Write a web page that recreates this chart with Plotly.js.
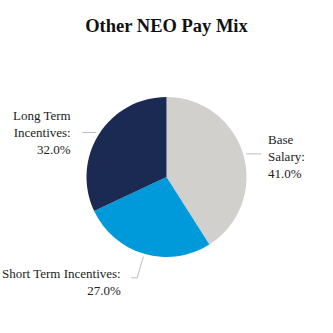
<!DOCTYPE html>
<html><head><meta charset="utf-8">
<script src="https://cdn.plot.ly/plotly-3.0.1.min.js"></script>
<style>html,body{margin:0;padding:0;background:#fff}</style>
</head><body><div id="chart" style="width:333px;height:333px"></div>
<script>
const categories = ["Base Salary", "Short Term Incentives", "Long Term Incentives"];
const labelLines = ["Base<br>Salary:", "Short Term Incentives:", "Long Term<br>Incentives:"];
const values = [41.0, 27.0, 32.0];
const colors = ["#D1D0CC", "#009ADA", "#1B2A52"];

// layout geometry (pixels)
const W = 333, H = 333, cx = 166.5, cy = 177, R = 80;
// leader style per slice: radial extension, horizontal run, text gap, text vertical shift
const leader = [
  {ext: 0,  run: 15,  gap: 5,  dy: 3},
  {ext: 22, run: -6,  gap: 8,  dy: 4},
  {ext: 0,  run: -14, gap: 9,  dy: 0}
];

const total = values.reduce((a, b) => a + b, 0);
let cum = 0;
const shapes = [], annotations = [];
values.forEach((v, i) => {
  const mid = (cum + v / 2) / total * 2 * Math.PI; cum += v;
  const ux = Math.sin(mid), uy = -Math.cos(mid);
  const p1 = [cx + (R + 3) * ux, cy + (R + 3) * uy];
  const p2 = [cx + (R + 3 + leader[i].ext) * ux, cy + (R + 3 + leader[i].ext) * uy];
  const p3 = [p2[0] + leader[i].run, p2[1]];
  const toX = px => px / W, toY = py => 1 - py / H;
  shapes.push({type: "path", xref: "paper", yref: "paper",
    path: `M${toX(p1[0])},${toY(p1[1])} L${toX(p2[0])},${toY(p2[1])} L${toX(p3[0])},${toY(p3[1])}`,
    line: {color: "#BDBDBD", width: 1}});
  const right = leader[i].run > 0;
  annotations.push({xref: "paper", yref: "paper", x: toX(p3[0]), y: toY(p3[1]),
    xanchor: right ? "left" : "right", yanchor: "middle", align: right ? "left" : "right",
    xshift: right ? leader[i].gap : -leader[i].gap, yshift: -leader[i].dy,
    showarrow: false, text: labelLines[i] + "<br>" + v.toFixed(1) + "%",
    font: {family: "Liberation Serif", size: 13, color: "#222"}});
});

Plotly.newPlot("chart", [{
  type: "pie",
  labels: categories,
  values: values,
  textinfo: "none",
  sort: false,
  direction: "clockwise",
  rotation: 0,
  marker: {colors: colors, line: {width: 0}},
  hoverinfo: "none",
  domain: {x: [(cx - R) / W, (cx + R) / W], y: [1 - (cy + R) / H, 1 - (cy - R) / H]}
}], {
  width: W, height: H,
  margin: {l: 0, r: 0, t: 0, b: 0},
  showlegend: false,
  paper_bgcolor: "#fff",
  font: {family: "Liberation Serif"},
  shapes: shapes,
  annotations: annotations,
  title: {text: "<b>Other NEO Pay Mix</b>", x: 0.5, y: 0.922, xanchor: "center", yanchor: "middle",
          font: {family: "Liberation Serif", size: 18.5, color: "#111"}}
}, {displayModeBar: false, staticPlot: true});
</script></body></html>
